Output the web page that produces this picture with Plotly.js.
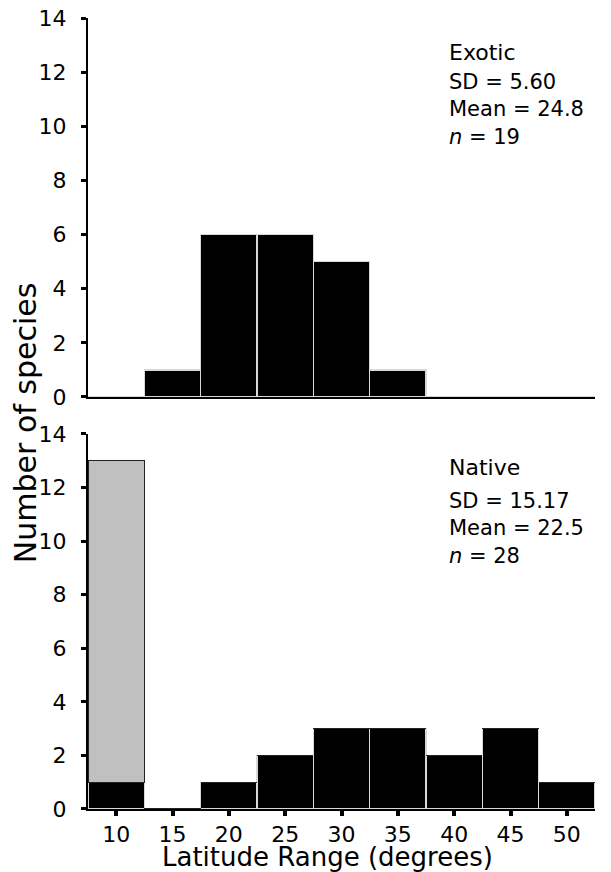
<!DOCTYPE html>
<html>
<head>
<meta charset="utf-8">
<script src="https://cdn.plot.ly/plotly-3.0.1.min.js"></script>
<style>html,body{margin:0;padding:0;background:#fff;}</style>
</head>
<body>
<div id="chart" style="width:611px;height:872px;"></div>
<script>
// Latitude range bins (bin centres, degrees)
const bins = [10, 15, 20, 25, 30, 35, 40, 45, 50];
// Exotic species counts
const exoticCounts = [0, 1, 6, 6, 5, 1, 0, 0, 0];
// Native species counts (black part)
const nativeCounts = [1, 0, 1, 2, 3, 3, 2, 3, 1];
// Native species, grey part stacked on top
const nativeGrey = [12, 0, 0, 0, 0, 0, 0, 0, 0];
const tickVals = [10, 15, 20, 25, 30, 35, 40, 45, 50];
const yTicks = [0, 2, 4, 6, 8, 10, 12, 14];

const FONT = '"DejaVu Sans", Verdana, sans-serif';

const traces = [
  {type: 'bar', x: bins, y: exoticCounts, xaxis: 'x', yaxis: 'y', width: 5,
   marker: {color: '#000000', line: {color: '#d8d8d8', width: 1.2}}, showlegend: false, hoverinfo: 'x+y'},
  {type: 'bar', x: bins, y: nativeCounts, xaxis: 'x2', yaxis: 'y2', width: 5,
   marker: {color: '#000000', line: {color: '#d8d8d8', width: 1.2}}, showlegend: false, hoverinfo: 'x+y'},
  {type: 'bar', x: bins, y: nativeGrey, xaxis: 'x2', yaxis: 'y2', width: 5,
   marker: {color: '#c0c0c0', line: {color: '#222222', width: 1}}, showlegend: false, hoverinfo: 'x+y'}
];

const ann = (text, x, y, size) => ({text: text, xref: 'paper', yref: 'paper', x: x, y: y,
  xanchor: 'left', yanchor: 'middle', showarrow: false, align: 'left',
  font: {family: FONT, size: size, color: '#000'}});

const ax = 0.708;
const layout = {
  width: 611, height: 872,
  margin: {l: 88, r: 16, t: 18, b: 63},
  paper_bgcolor: '#fff', plot_bgcolor: '#fff',
  barmode: 'stack', bargap: 0,
  font: {family: FONT, color: '#000'},
  xaxis: {domain: [0, 1], anchor: 'y', range: [7.5, 52.5], showgrid: false, zeroline: false,
    showline: true, linecolor: '#000', linewidth: 2, ticks: '', showticklabels: false},
  yaxis: {domain: [0.5209, 1], anchor: 'x', range: [0, 14], tickvals: yTicks, showgrid: false, zeroline: false,
    showline: true, linecolor: '#000', linewidth: 2, ticks: 'outside', ticklen: 5, tickwidth: 3, tickcolor: '#000',
    ticklabelstandoff: 10, tickfont: {family: FONT, size: 22, color: '#000'}},
  xaxis2: {domain: [0, 1], anchor: 'y2', range: [7.5, 52.5], showgrid: false, zeroline: false,
    showline: true, linecolor: '#000', linewidth: 2, ticks: 'outside', ticklen: 5, tickwidth: 4, tickcolor: '#000',
    ticklabelstandoff: 0, tickvals: tickVals, tickfont: {family: FONT, size: 22, color: '#000'}},
  yaxis2: {domain: [0, 0.4741], anchor: 'x2', range: [0, 14], tickvals: yTicks, showgrid: false, zeroline: false,
    showline: true, linecolor: '#000', linewidth: 2, ticks: 'outside', ticklen: 5, tickwidth: 3, tickcolor: '#000',
    ticklabelstandoff: 10, tickfont: {family: FONT, size: 22, color: '#000'}},
  annotations: [
    ann('Exotic', ax, 0.9558, 22),
    ann('SD = 5.60<br>Mean = 24.8<br><i>n</i> = 19', ax, 0.8837, 21),
    ann('Native', ax, 0.4311, 22),
    ann('SD = 15.17<br>Mean = 22.5<br><i>n</i> = 28', ax, 0.3552, 21),
    {text: 'Number of species', xref: 'paper', yref: 'paper', x: -0.122, y: 0.488, textangle: -90,
     xanchor: 'center', yanchor: 'middle', showarrow: false, font: {family: FONT, size: 30, color: '#000'}},
    {text: 'Latitude Range (degrees)', xref: 'paper', yref: 'paper', x: 0.473, y: -0.061,
     xanchor: 'center', yanchor: 'middle', showarrow: false, font: {family: FONT, size: 26, color: '#000'}}
  ]
};

Plotly.newPlot('chart', traces, layout, {displayModeBar: false, staticPlot: true});
</script>
</body>
</html>
